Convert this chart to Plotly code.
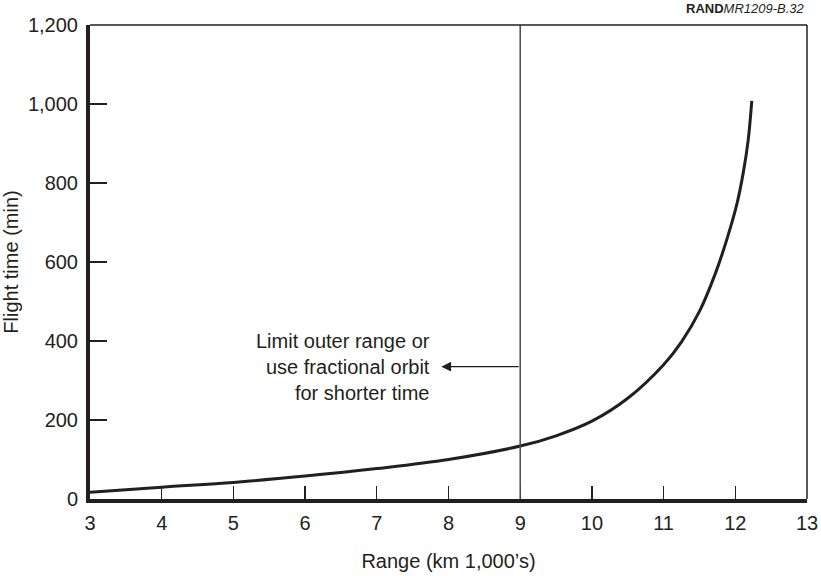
import plotly.graph_objects as go

# Data
range_km = [3.0, 4.0, 5.0, 6.0, 7.0, 8.0, 9.0, 9.5, 10.0, 10.5, 11.0, 11.25, 11.5, 11.72, 11.88, 12.02, 12.11, 12.18, 12.23]
flight_min = [17, 30, 42, 58, 77, 100, 134, 160, 197, 255, 340, 398, 475, 570, 656, 745, 825, 909, 1008]

x_ticks = [3, 4, 5, 6, 7, 8, 9, 10, 11, 12, 13]
y_ticks = [0, 200, 400, 600, 800, 1000, 1200]
y_tick_text = ["0", "200", "400", "600", "800", "1,000", "1,200"]

limit_range = 9
arrow_y = 335
arrow_head_x = 7.9
note_lines = ["Limit outer range or", "use fractional orbit", "for shorter time"]

INK = "#231f20"
FONT = "Liberation Sans, Arial, sans-serif"

fig = go.Figure()
fig.add_trace(go.Scatter(
    x=range_km, y=flight_min, mode="lines",
    line=dict(color=INK, width=3, shape="spline", smoothing=1.0),
    hoverinfo="skip", showlegend=False,
))

# vertical limit line
fig.add_shape(type="line", xref="x", yref="y", x0=limit_range, x1=limit_range,
              y0=y_ticks[0], y1=y_ticks[-1], line=dict(color="#4a4a4a", width=1.5))
# thin top and right frame
fig.add_shape(type="line", xref="paper", yref="paper", x0=0, x1=1, y0=1, y1=1,
              line=dict(color=INK, width=1.5))
fig.add_shape(type="line", xref="paper", yref="paper", x0=1, x1=1, y0=0, y1=1,
              line=dict(color=INK, width=1.5))

# arrow
fig.add_annotation(x=arrow_head_x, y=arrow_y, ax=limit_range, ay=arrow_y,
                   xref="x", yref="y", axref="x", ayref="y", text="",
                   showarrow=True, arrowhead=2, arrowsize=1.5, arrowwidth=1.3,
                   arrowcolor=INK)
fig.add_annotation(x=arrow_head_x - 0.13, y=arrow_y, xref="x", yref="y",
                   text="<br>".join(note_lines), showarrow=False,
                   xanchor="right", yanchor="middle", align="right",
                   font=dict(family=FONT, size=20, color=INK))

# credit
fig.add_annotation(x=1, y=1, xref="paper", yref="paper", yshift=7,
                   text="<b>RAND</b><i>MR1209-B.32</i>", showarrow=False,
                   xanchor="right", yanchor="bottom",
                   font=dict(family=FONT, size=13, color=INK))

fig.update_xaxes(range=[3, 13], tickmode="array", tickvals=x_ticks,
                 ticks="inside", ticklen=13, tickwidth=1.3, tickcolor=INK,
                 showline=True, linewidth=4, linecolor=INK, showgrid=False,
                 zeroline=False, automargin=False, ticklabelstandoff=3,
                 tickfont=dict(family=FONT, size=20, color=INK),
                 title=dict(text="Range (km 1,000’s)", standoff=22,
                            font=dict(family=FONT, size=20, color=INK)))
fig.update_yaxes(range=[0, 1200], tickmode="array", tickvals=y_ticks,
                 ticktext=y_tick_text,
                 ticks="inside", ticklen=17, tickwidth=1.3, tickcolor=INK,
                 showline=True, linewidth=4, linecolor=INK, showgrid=False,
                 zeroline=False, automargin=False, ticklabelstandoff=4,
                 tickfont=dict(family=FONT, size=20, color=INK),
                 title=dict(text="Flight time (min)", standoff=7,
                            font=dict(family=FONT, size=20, color=INK)))

fig.update_layout(
    width=821, height=576,
    margin=dict(l=90, r=14, t=25, b=77),
    paper_bgcolor="white", plot_bgcolor="white",
)

# remove the default 8px page margin so the figure fills the window exactly
fig.write_html("out.html",
               config={"displayModeBar": False, "staticPlot": True},
               post_script="document.body.style.margin='0';document.body.style.overflow='hidden';")
